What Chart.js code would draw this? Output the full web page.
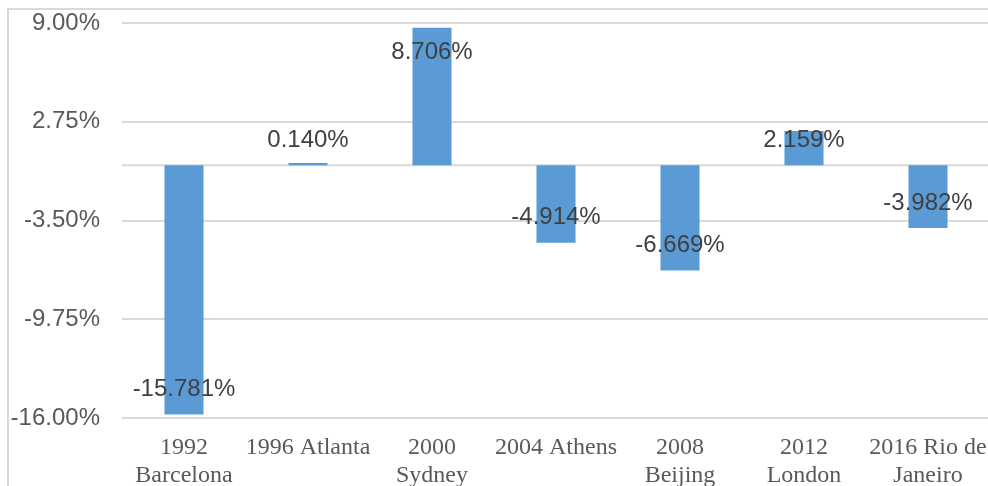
<!DOCTYPE html>
<html>
<head>
<meta charset="utf-8">
<script src="https://cdn.jsdelivr.net/npm/chart.js@4.4.1/dist/chart.umd.min.js"></script>
<style>
  html, body { margin: 0; padding: 0; background: #fff; overflow: hidden; width: 988px; height: 486px; }
  #frame { position: absolute; left: 7px; top: 8px; width: 1200px; height: 800px; border: 2px solid #d9d9d9; box-sizing: border-box; }
  #wrap { position: absolute; left: 0; top: 0; width: 1000px; height: 520px; }
</style>
</head>
<body>
<div id="frame"></div>
<div id="wrap"><canvas id="chart" width="1000" height="520"></canvas></div>
<script>
// Host-city games and the change (%) recorded for each
const games = [
  ['1992', 'Barcelona'],
  '1996 Atlanta',
  ['2000', 'Sydney'],
  '2004 Athens',
  ['2008', 'Beijing'],
  ['2012', 'London'],
  ['2016 Rio de', 'Janeiro']
];
const changePct = [-15.781, 0.140, 8.706, -4.914, -6.669, 2.159, -3.982];
const yTicks = [-16.00, -9.75, -3.50, 2.75, 9.00];

const SANS = '"Liberation Sans", Arial, sans-serif';
const SERIF = '"Liberation Serif", "Times New Roman", serif';

// Zero baseline across the plot
const zeroLine = {
  id: 'zeroLine',
  beforeDatasetsDraw(chart) {
    const { ctx, chartArea, scales } = chart;
    const y = scales.y.getPixelForValue(0);
    ctx.save();
    ctx.strokeStyle = '#d9d9d9';
    ctx.lineWidth = 2;
    ctx.beginPath();
    ctx.moveTo(chartArea.left, y);
    ctx.lineTo(chartArea.right, y);
    ctx.stroke();
    ctx.restore();
  }
};

// Value labels placed just inside the bar end, kept clear of the baseline
const valueLabels = {
  id: 'valueLabels',
  afterDatasetsDraw(chart) {
    const { ctx, scales } = chart;
    const meta = chart.getDatasetMeta(0);
    const zero = scales.y.getPixelForValue(0);
    ctx.save();
    ctx.font = '24px ' + SANS;
    ctx.fillStyle = '#404040';
    ctx.textAlign = 'center';
    ctx.textBaseline = 'middle';
    meta.data.forEach((bar, i) => {
      const v = changePct[i];
      const end = scales.y.getPixelForValue(v);
      const y = v >= 0 ? Math.min(end + 25, zero - 25) : Math.max(end - 25, zero + 25);
      ctx.fillText(v.toFixed(3) + '%', bar.x, y);
    });
    ctx.restore();
  }
};

new Chart(document.getElementById('chart'), {
  type: 'bar',
  data: {
    labels: games,
    datasets: [{
      data: changePct,
      backgroundColor: '#5b9bd5',
      borderWidth: 0,
      categoryPercentage: 1,
      barPercentage: 0.315
    }]
  },
  options: {
    responsive: false,
    animation: false,
    layout: { padding: { left: 0, top: 23, right: 10, bottom: 0 } },
    plugins: { legend: { display: false }, tooltip: { enabled: false } },
    scales: {
      x: {
        grid: { display: false, drawTicks: false },
        border: { display: false },
        ticks: {
          font: { family: SERIF, size: 24, lineHeight: 1.17 },
          color: '#595959',
          padding: 16,
          maxRotation: 0,
          autoSkip: false
        },
        afterFit(scale) {
          scale.height = 102;
          scale.paddingLeft = 0;
          scale.paddingRight = 0;
        }
      },
      y: {
        min: -16,
        max: 9,
        afterBuildTicks(scale) { scale.ticks = yTicks.map(v => ({ value: v })); },
        grid: { color: '#d9d9d9', lineWidth: 2, drawTicks: false },
        border: { display: false },
        ticks: {
          font: { family: SANS, size: 24 },
          color: '#595959',
          padding: 22,
          callback: v => Number(v).toFixed(2) + '%'
        },
        afterFit(scale) {
          scale.width = 122;
          scale.paddingTop = 0;
          scale.paddingBottom = 0;
        }
      }
    }
  },
  plugins: [zeroLine, valueLabels]
});
</script>
</body>
</html>
